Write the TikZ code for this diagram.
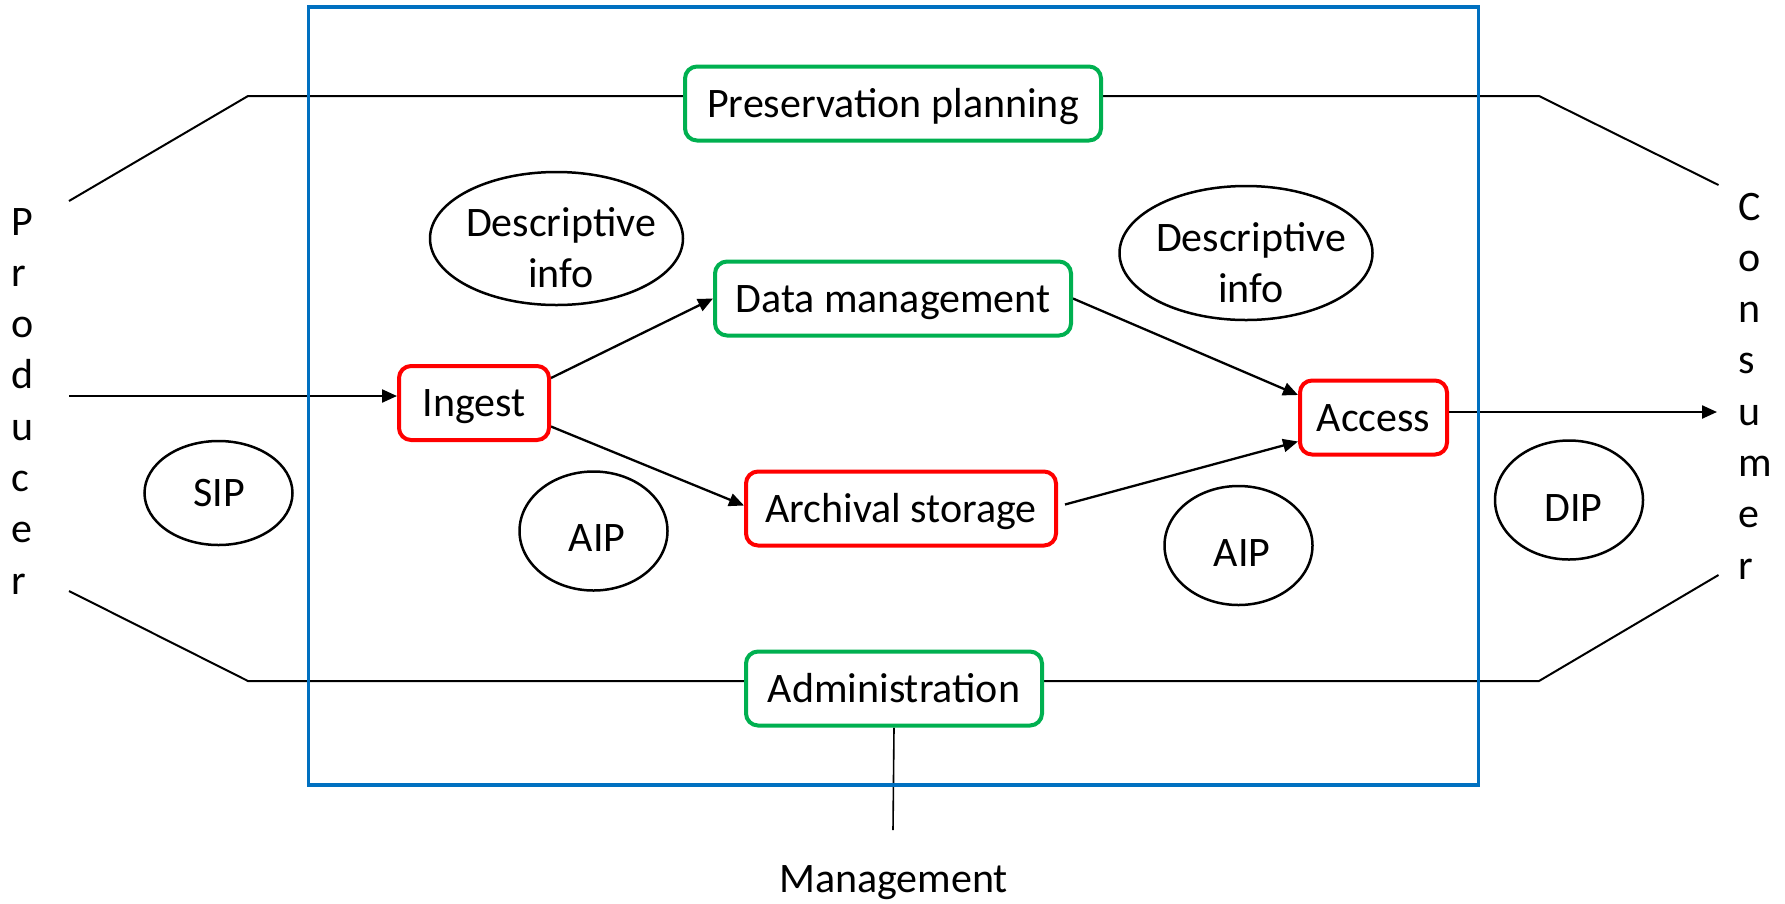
\documentclass[tikz,border=0pt]{standalone}
\usepackage{fontspec}
\setmainfont{Carlito}
\usetikzlibrary{arrows.meta,shapes.geometric,backgrounds}
\definecolor{ogreen}{HTML}{00B050}
\definecolor{ored}{HTML}{FF0000}
\definecolor{oblue}{HTML}{0070C0}
\begin{document}
\begin{tikzpicture}[x=1pt,y=-1pt,
  every node/.style={font=\fontsize{42}{51.3}\selectfont},
  gbox/.style={draw=ogreen, line width=4pt, rounded corners=12pt, minimum height=74pt, inner sep=0pt, text height=27pt, text depth=0pt, fill=white},
  rbox/.style={gbox, draw=ored},
  oval/.style={draw, ellipse, line width=2.5pt, inner sep=0pt},
  lbl/.style={anchor=base, inner sep=0pt},
  flow/.style={line width=2.3pt, -{Triangle[length=15pt,width=13pt]}},
  link/.style={line width=2pt},
  thin link/.style={line width=1.6pt},
]
\path[use as bounding box] (0,0) rectangle (1785,903);
\node[draw=oblue, line width=3.5pt, minimum width=1170pt, minimum height=778pt, inner sep=0pt] (sys) at (893.5,396) {};
% process boxes
\node[gbox, minimum width=416pt] (pp) at (893,103.5) {Preservation planning};
\node[gbox, minimum width=356pt] (dm) at (893,298.5) {Data management};
\node[rbox, minimum width=150pt] (ing) at (474,403) {Ingest};
\node[rbox, minimum width=310pt] (ar) at (901,508.5) {Archival storage};
\node[rbox, minimum width=147pt] (acc) at (1373.5,417.5) {Access};
\node[gbox, minimum width=296pt] (adm) at (894,688.5) {Administration};
% information packages
\node[oval, minimum width=253pt, minimum height=133pt] (di1) at (556.5,238.5) {};
\node[lbl] (di1t) at (561,236) {\begin{tabular}[t]{@{}c@{}}Descriptive\\info\end{tabular}};
\node[oval, minimum width=253pt, minimum height=134pt] (di2) at (1246,253) {};
\node[lbl] (di2t) at (1251,251) {\begin{tabular}[t]{@{}c@{}}Descriptive\\info\end{tabular}};
\node[oval, minimum width=148pt, minimum height=104pt] (sip) at (218.5,493) {};
\node[lbl] (sipt) at (219,506) {SIP};
\node[oval, minimum width=148pt, minimum height=119pt] (aip1) at (593.5,531) {};
\node[lbl] (aip1t) at (597,551) {AIP};
\node[oval, minimum width=148pt, minimum height=119pt] (aip2) at (1238.5,545.5) {};
\node[lbl] (aip2t) at (1242,566) {AIP};
\node[oval, minimum width=148pt, minimum height=119pt] (dip) at (1569,500) {};
\node[lbl] (dipt) at (1573.5,521) {DIP};
% actors
\node[anchor=base west, inner sep=0pt] (prod) at (11.5,235) {\begin{tabular}[t]{@{}l@{}}P\\r\\o\\d\\u\\c\\e\\r\end{tabular}};
\node[anchor=base west, inner sep=0pt] (cons) at (1738,220) {\begin{tabular}[t]{@{}l@{}}C\\o\\n\\s\\u\\m\\e\\r\end{tabular}};
\node[lbl] (mgmt) at (893.6,892.5) {Management};
% free ends
\coordinate (ppL) at (248,96);
\coordinate (prodT) at (69,201);
\coordinate (ppR) at (1539,96);
\coordinate (consT) at (1718.5,185);
\coordinate (admL) at (248,681);
\coordinate (prodB) at (69,591);
\coordinate (admR) at (1539,681);
\coordinate (consB) at (1718.5,575);
\coordinate (prodA) at (69,396);
\coordinate (consA) at (1717,412);
\coordinate (mgmtT) at (893,830);
\begin{pgfonlayer}{background}
\draw[link] (pp.west |- ppL) -- (ppL) -- (prodT);
\draw[link] (pp.east |- ppR) -- (ppR) -- (consT);
\draw[link] (adm.west |- admL) -- (admL) -- (prodB);
\draw[link] (adm.east |- admR) -- (admR) -- (consB);
\draw[thin link] (adm.south) -- (mgmtT);
\draw[flow] (prodA) -- (ing.west |- prodA);
\draw[flow] ([yshift=-14pt]ing.north east) -- (dm.west);
\draw[flow] ([yshift=-23.5pt]ing.east) -- ([yshift=3pt]ar.west);
\draw[flow] (dm.east) -- ([yshift=-16.5pt]acc.north west);
\draw[flow] ([xshift=7pt,yshift=4pt]ar.east) -- ([yshift=-24pt]acc.west);
\draw[flow] (acc.east |- consA) -- (consA);
\end{pgfonlayer}
\end{tikzpicture}
\end{document}
